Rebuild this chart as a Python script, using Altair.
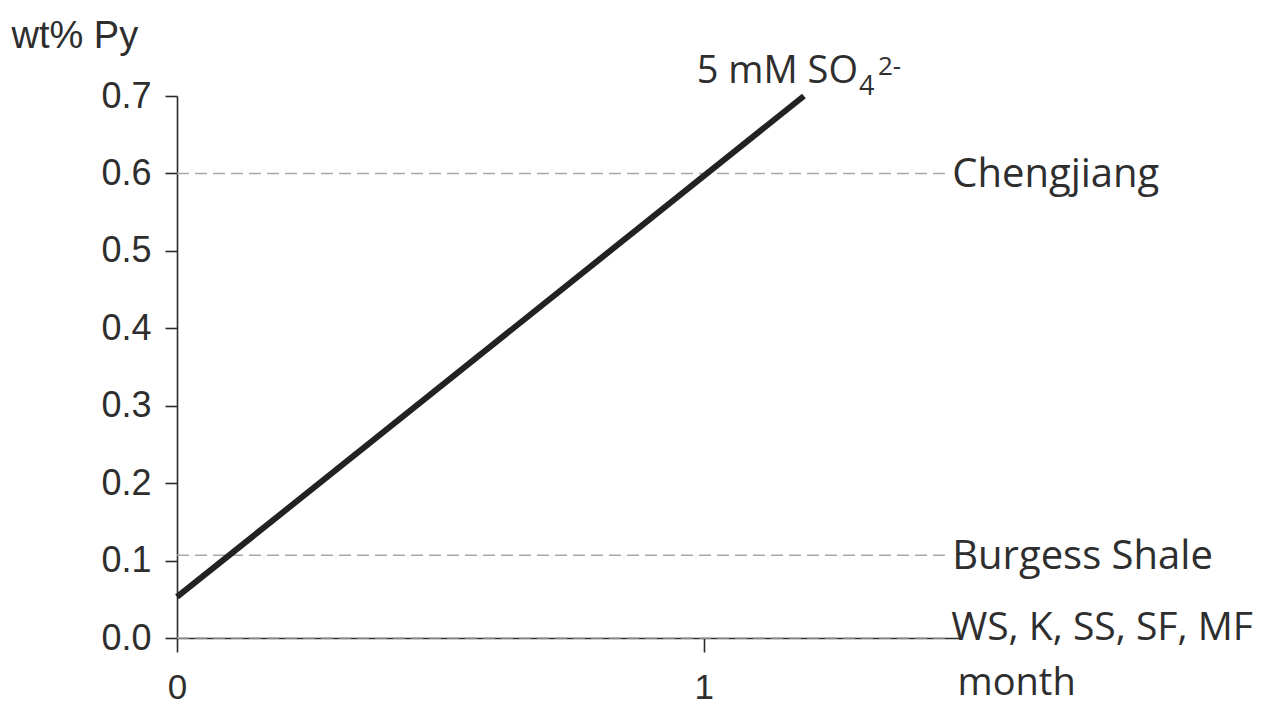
import altair as alt
import pandas as pd

# Series: 5 mM sulfate pyritization line
months = [0.0, 1.19]
wt_py = [0.053, 0.70]

# Reference levels
ref_names = ["Chengjiang", "Burgess Shale", "WS, K, SS, SF, MF"]
ref_values = [0.60, 0.107, 0.0]
ref_start = [0.0, 0.0, 0.0]
ref_end = [1.46, 1.46, 1.46]

x_ticks = [0, 1]
y_ticks = [0.0, 0.1, 0.2, 0.3, 0.4, 0.5, 0.6, 0.7]

line_df = pd.DataFrame({"month": months, "wt": wt_py})
ref_df = pd.DataFrame({"name": ref_names, "value": ref_values,
                       "start": ref_start, "end": ref_end})
end_df = line_df.tail(1)

TXT = "#2e2e2e"
AX = "#2b2b2b"

xscale = alt.Scale(domain=[0, 1.49], nice=False, zero=False)
yscale = alt.Scale(domain=[0, 0.7], nice=False)

x_axis = alt.Axis(values=x_ticks, format="d", tickSize=14, labelPadding=18, labelFlush=False,
                  labelFont="Liberation Sans", labelFontSize=35, labelColor=TXT,
                  domainColor=AX, tickColor=AX, domainWidth=1.6, tickWidth=1.6,
                  grid=False, title="month", titleFont="Open Sans", titleFontSize=38,
                  titleFontWeight="normal", titleColor=TXT, titleAlign="left",
                  titleBaseline="alphabetic", titleX=780, titleY=56, titleAngle=0)
y_axis = alt.Axis(values=y_ticks, format=".1f", tickSize=12, labelPadding=14, labelFlush=False,
                  labelFont="Liberation Sans", labelFontSize=36, labelColor=TXT,
                  domainColor=AX, tickColor=AX, domainWidth=1.6, tickWidth=1.6,
                  grid=False, title="wt% Py", titleFont="Liberation Sans", titleFontSize=38,
                  titleFontWeight="normal", titleColor=TXT, titleAngle=0,
                  titleAlign="left", titleBaseline="alphabetic", titleX=-166, titleY=-49)

rules = alt.Chart(ref_df).mark_rule(color="#a8a8a8", strokeDash=[12, 6], strokeWidth=1.5).encode(
    x=alt.X("start:Q", scale=xscale, axis=x_axis),
    x2="end:Q",
    y=alt.Y("value:Q", scale=yscale, axis=y_axis),
)

line = alt.Chart(line_df).mark_line(color="#222222", strokeWidth=6, strokeCap="butt").encode(
    x=alt.X("month:Q", scale=xscale),
    y=alt.Y("wt:Q", scale=yscale),
)

lab_mid = alt.Chart(ref_df.iloc[:2]).mark_text(
    align="left", baseline="middle", dx=6, dy=2, font="Open Sans", fontSize=40, color=TXT
).encode(x="end:Q", y="value:Q", text="name:N")

lab_bot = alt.Chart(ref_df.iloc[2:]).mark_text(
    align="left", baseline="alphabetic", dx=5, dy=2, font="Open Sans", fontSize=39, color=TXT
).encode(x="end:Q", y="value:Q", text="name:N")

t_main = alt.Chart(end_df).mark_text(
    align="right", baseline="alphabetic", dx=54, dy=-13, font="Open Sans", fontSize=38, color=TXT
).encode(x="month:Q", y="wt:Q", text=alt.value("5 mM SO"))
t_sub = alt.Chart(end_df).mark_text(
    align="left", baseline="alphabetic", dx=55, dy=-1, font="Open Sans", fontSize=27, color=TXT
).encode(x="month:Q", y="wt:Q", text=alt.value("4"))
t_sup = alt.Chart(end_df).mark_text(
    align="left", baseline="alphabetic", dx=74, dy=-21, font="Open Sans", fontSize=26, color=TXT
).encode(x="month:Q", y="wt:Q", text=alt.value("2-"))

chart = alt.layer(rules, line, lab_mid, lab_bot, t_main, t_sub, t_sup).properties(
    width=785, height=542,
    autosize=alt.AutoSizeParams(type="none"),
    padding={"left": 169, "top": 88, "right": 300, "bottom": 68},
    background="white",
).configure_view(stroke=None)

chart.save("out.html", embed_options={"renderer": "svg", "actions": False})
